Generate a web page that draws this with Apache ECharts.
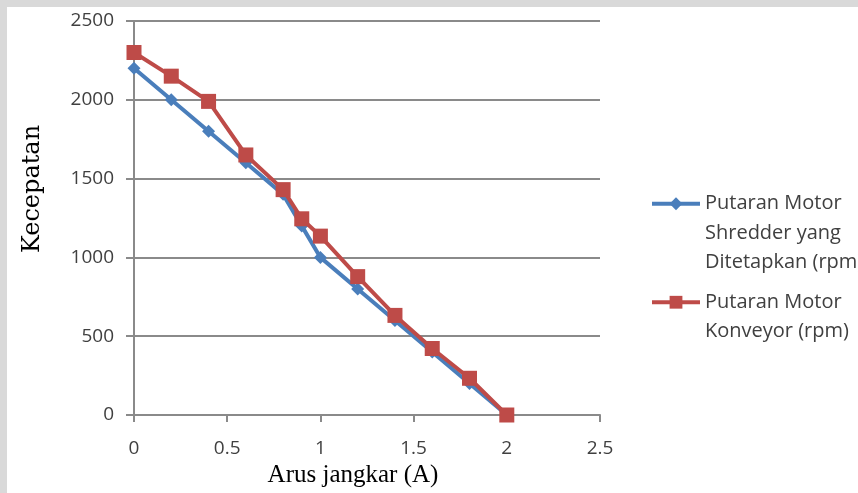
<!DOCTYPE html>
<html>
<head>
<meta charset="utf-8">
<script src="https://cdn.jsdelivr.net/npm/echarts@6/dist/echarts.min.js"></script>
<style>html,body{margin:0;padding:0;background:#fff;}#c{width:858px;height:493px;}</style>
</head>
<body>
<div id="c"></div>
<script>
const xValues = [0, 0.2, 0.4, 0.6, 0.8, 0.9, 1, 1.2, 1.4, 1.6, 1.8, 2];
const shredder = [2200, 2000, 1800, 1600, 1400, 1200, 1000, 800, 600, 400, 200, 0];
const konveyor = [2300, 2150, 1990, 1650, 1430, 1245, 1135, 878, 632, 422, 233, 0];
const seriesNames = ['Putaran Motor Shredder yang Ditetapkan (rpm)', 'Putaran Motor Konveyor (rpm)'];
const legendLines = [['Putaran Motor', 'Shredder yang', 'Ditetapkan (rpm)'], ['Putaran Motor', 'Konveyor (rpm)']];

const chart = echarts.init(document.getElementById('c'), null, {renderer: 'canvas'});
const axisGray = '#8a8a8a';
const labelFont = {fontFamily: 'Open Sans', fontSize: 19, color: '#404040'};

function pairs(ys) { return xValues.map((x, i) => [x, ys[i]]); }

function legendFor(idx, top) {
  const n = legendLines[idx].length;
  return {
    show: true, orient: 'vertical', left: 650, top: top, padding: 0,
    data: [seriesNames[idx]],
    itemWidth: 48, itemHeight: 16, itemGap: 0, textGap: 2,
    lineStyle: {width: 4},
    textStyle: {fontFamily: 'Open Sans', fontSize: 20, color: '#404040', lineHeight: 29.5},
    formatter: function () { return '\n'.repeat(n - 1) + legendLines[idx].join('\n'); },
    selectedMode: false
  };
}

chart.setOption({
  backgroundColor: '#ffffff',
  animation: false,
  graphic: [
    {type: 'rect', shape: {x: 0, y: 0, width: 858, height: 7}, style: {fill: '#d9d9d9'}, silent: true},
    {type: 'rect', shape: {x: 0, y: 0, width: 7, height: 493}, style: {fill: '#d9d9d9'}, silent: true}
  ],
  grid: {left: 134, right: 258, top: 21, bottom: 78, containLabel: false},
  legend: [legendFor(0, 130), legendFor(1, 258)],
  xAxis: {
    type: 'value', min: 0, max: 2.5, interval: 0.5,
    name: 'Arus jangkar (A)', nameLocation: 'middle', nameGap: 48,
    nameTextStyle: {fontFamily: 'Liberation Serif', fontSize: 25, color: '#000', padding: [0, 28, 0, 0]},
    axisLine: {show: true, lineStyle: {color: axisGray, width: 2}},
    axisTick: {show: true, inside: false, length: 7, lineStyle: {color: axisGray, width: 2}},
    axisLabel: Object.assign({margin: 24}, labelFont),
    splitLine: {show: false}
  },
  yAxis: {
    type: 'value', min: 0, max: 2500, interval: 500,
    name: 'Kecepatan', nameLocation: 'middle', nameGap: 89,
    nameTextStyle: {fontFamily: 'DejaVu Serif', fontSize: 24, color: '#000', padding: [0, 0, 0, 58]},
    axisLine: {show: true, lineStyle: {color: axisGray, width: 2}},
    axisTick: {show: true, inside: false, length: 8, lineStyle: {color: axisGray, width: 2}},
    axisLabel: Object.assign({margin: 20, formatter: v => String(v)}, labelFont),
    splitLine: {show: true, lineStyle: {color: axisGray, width: 2}}
  },
  series: [
    {
      name: seriesNames[0], type: 'line', data: pairs(shredder),
      symbol: 'diamond', symbolSize: 13,
      lineStyle: {color: '#4A7EBB', width: 4},
      itemStyle: {color: '#4A7EBB'},
      z: 2
    },
    {
      name: seriesNames[1], type: 'line', data: pairs(konveyor),
      symbol: 'rect', symbolSize: 15,
      lineStyle: {color: '#BE4B48', width: 4},
      itemStyle: {color: '#BE4B48'},
      z: 3
    }
  ]
});
</script>
</body>
</html>
